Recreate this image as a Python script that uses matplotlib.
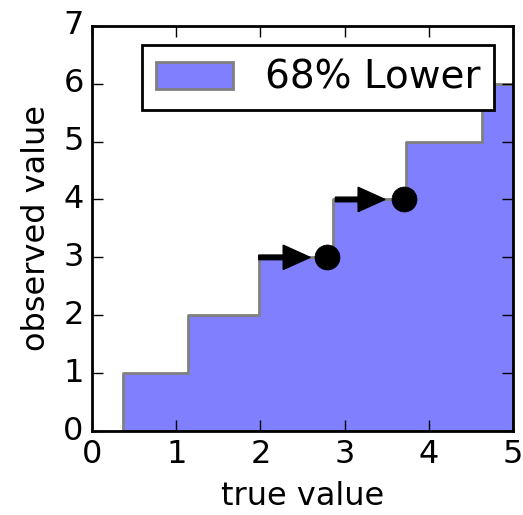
import matplotlib
matplotlib.use("Agg")
import matplotlib.pyplot as plt

# Lower edge of the 68% confidence belt (step function)
step_edges = [0.37, 1.14, 1.98, 2.86, 3.73, 4.63, 5.0]
step_levels = [1, 2, 3, 4, 5, 6, 6]

# Observed points and the arrows pointing at them
obs_x = [2.79, 3.70]
obs_y = [3, 4]
arrow_start = [1.98, 2.89]
arrow_end = [2.59, 3.48]

plt.style.use("classic")
fig = plt.figure(figsize=(5.23, 5.15), dpi=100)
ax = fig.add_axes([0.176, 0.163, 0.805, 0.787])

ax.fill_between(step_edges, step_levels, step="post", facecolor="#8080ff",
                edgecolor="gray", linewidth=2, label="68% Lower")

for x0, x1, y in zip(arrow_start, arrow_end, obs_y):
    ax.arrow(x0, y, x1 - x0, 0, width=0.08, head_width=0.42, head_length=0.32,
             length_includes_head=True, fc="k", ec="k")
ax.plot(obs_x, obs_y, "o", color="k", markersize=18)

ax.set_xlim(0, 5)
ax.set_ylim(0, 7)
ax.set_xlabel("true value", fontsize=23, labelpad=8)
ax.set_ylabel("observed value", fontsize=23, labelpad=8)
ax.tick_params(labelsize=23, length=8, width=1, direction="in", pad=6)
for s in ax.spines.values():
    s.set_linewidth(2)

leg = ax.legend(loc="upper right", fontsize=28, handlelength=2,
                handletextpad=0.8, borderaxespad=0.5, borderpad=0.35)
leg.get_frame().set_linewidth(2)

fig.savefig("out.png", dpi=100)
